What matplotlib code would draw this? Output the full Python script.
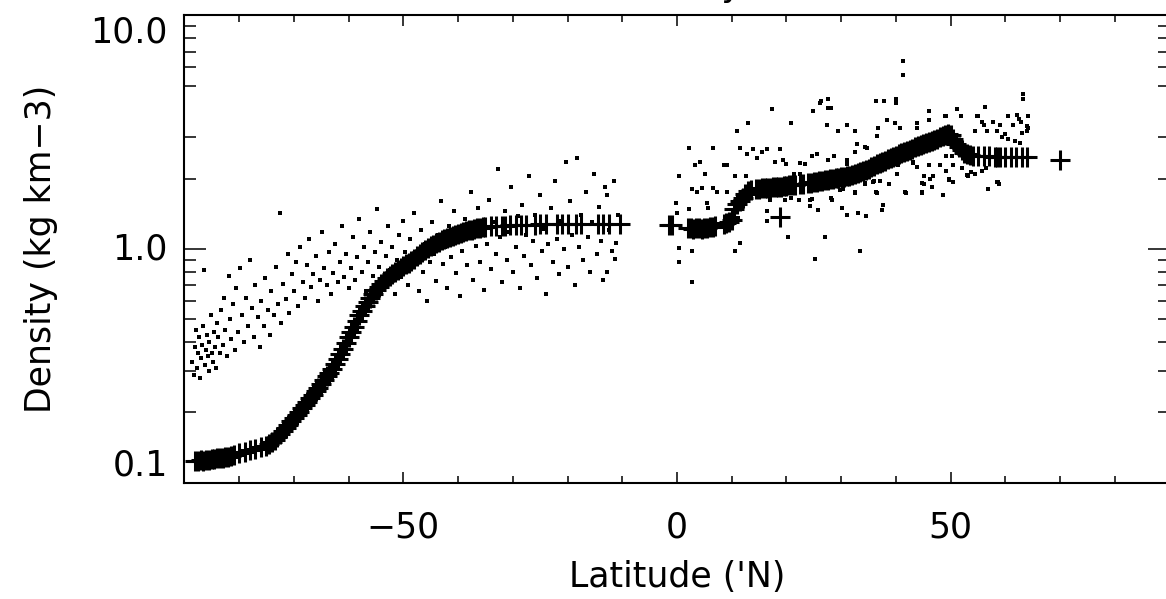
import matplotlib
matplotlib.use("Agg")
import matplotlib.pyplot as plt
from matplotlib.ticker import FixedLocator, FixedFormatter, NullFormatter

# zonal mean profile (plus markers)
prof_lat = [-88.0, -87.5, -87.0, -86.5, -86.0, -85.5, -85.0, -84.5, -84.0, -83.5, -83.0, -82.5,
            -82.0, -81.5, -81.0, -80.0, -79.0, -78.0, -77.0, -76.0, -75.0, -74.5, -74.0, -73.5,
            -73.0, -72.5, -72.0, -71.5, -71.0, -70.5, -70.0, -69.5, -69.0, -68.5, -68.0, -67.5,
            -67.0, -66.5, -66.0, -65.5, -65.0, -64.5, -64.0, -63.5, -63.0, -62.5, -62.0, -61.5,
            -61.0, -60.5, -60.0, -59.5, -59.0, -58.5, -58.0, -57.5, -57.0, -56.5, -56.0, -55.5,
            -55.0, -54.5, -54.0, -53.5, -53.0, -52.5, -52.0, -51.5, -51.0, -50.5, -50.0, -49.5,
            -49.0, -48.5, -48.0, -47.5, -47.0, -46.5, -46.0, -45.5, -45.0, -44.5, -44.0, -43.5,
            -43.0, -42.5, -42.0, -41.5, -41.0, -40.5, -40.0, -39.5, -39.0, -38.5, -38.0, -37.5,
            -37.0, -36.5, -36.0, -35.5, -35.0, -34.0, -33.0, -32.0, -31.5, -30.5, -29.5, -28.5,
            -27.5, -26.0, -25.0, -24.0, -22.0, -21.0, -20.0, -18.5, -17.5, -14.5, -13.5, -12.5,
            -10.5,
            -1.5, -1.0, 2.0, 2.5, 3.0, 3.5, 4.0, 4.5, 5.0, 5.5, 6.0, 6.5, 7.0, 8.5, 9.0, 9.5,
            10.0, 10.5, 11.0, 11.5, 12.0, 12.5, 13.0, 13.5, 14.5, 15.0, 15.5, 16.0, 16.5, 17.0,
            17.5, 18.0, 18.5, 19.0, 19.5, 20.0, 20.5, 21.0, 21.5, 22.5, 23.0, 24.0, 24.5, 25.0,
            25.5, 26.0, 26.5, 27.0, 27.5, 28.0, 28.5, 29.0, 29.5, 30.0, 30.5, 31.0, 31.5, 32.0,
            32.5, 33.0, 33.5, 34.0, 34.5, 35.0, 35.5, 36.0, 36.5, 37.0, 37.5, 38.0, 38.5, 39.0,
            39.5, 40.0, 40.5, 41.0, 41.5, 42.0, 42.5, 43.0, 43.5, 44.0, 44.5, 45.0, 45.5, 46.0,
            46.5, 47.0, 47.5, 48.0, 48.5, 49.0, 49.5, 50.0, 50.5, 51.0, 51.5, 52.0, 52.5, 53.0,
            53.5, 54.0, 55.0, 56.0, 57.0, 58.0, 58.5, 59.0, 60.0, 61.0, 62.0, 63.0, 64.0,
            18.8, 70.0]
prof_den = [0.124, 0.124, 0.125, 0.124, 0.125, 0.125, 0.126, 0.126, 0.127, 0.127, 0.128, 0.129,
            0.129, 0.130, 0.131, 0.134, 0.135, 0.138, 0.139, 0.142, 0.144, 0.146, 0.149, 0.153,
            0.157, 0.161, 0.166, 0.171, 0.177, 0.183, 0.189, 0.195, 0.201, 0.208, 0.215, 0.222,
            0.230, 0.238, 0.246, 0.255, 0.265, 0.275, 0.285, 0.296, 0.308, 0.322, 0.338, 0.355,
            0.375, 0.398, 0.42, 0.44, 0.465, 0.49, 0.52, 0.545, 0.57, 0.595, 0.62, 0.645,
            0.67, 0.69, 0.71, 0.73, 0.75, 0.77, 0.785, 0.80, 0.815, 0.83, 0.845, 0.86,
            0.875, 0.89, 0.91, 0.93, 0.95, 0.97, 0.99, 1.01, 1.03, 1.045, 1.06, 1.075,
            1.09, 1.10, 1.115, 1.13, 1.14, 1.15, 1.16, 1.17, 1.18, 1.19, 1.20, 1.21,
            1.22, 1.23, 1.235, 1.24, 1.245, 1.25, 1.255, 1.26, 1.26, 1.265, 1.265, 1.27,
            1.27, 1.27, 1.275, 1.275, 1.28, 1.28, 1.28, 1.28, 1.28, 1.28, 1.28, 1.28,
            1.28,
            1.27, 1.27, 1.23, 1.23, 1.22, 1.23, 1.23, 1.22, 1.23, 1.23, 1.24, 1.24, 1.25, 1.28, 1.29, 1.30,
            1.33, 1.48, 1.56, 1.60, 1.66, 1.72, 1.77, 1.79, 1.80, 1.81, 1.82, 1.82, 1.83, 1.83,
            1.84, 1.84, 1.85, 1.85, 1.86, 1.86, 1.87, 1.87, 1.88, 1.90, 1.90, 1.91, 1.92, 1.93,
            1.94, 1.95, 1.96, 1.97, 1.98, 1.99, 2.00, 2.01, 2.02, 2.03, 2.04, 2.05, 2.06, 2.08,
            2.10, 2.12, 2.14, 2.16, 2.18, 2.21, 2.24, 2.27, 2.30, 2.33, 2.36, 2.39, 2.42, 2.45,
            2.48, 2.51, 2.54, 2.57, 2.60, 2.63, 2.66, 2.69, 2.72, 2.75, 2.78, 2.80, 2.83, 2.86,
            2.89, 2.93, 2.97, 3.01, 3.05, 3.08, 3.10, 3.06, 2.95, 2.82, 2.72, 2.65, 2.58, 2.54,
            2.52, 2.51, 2.50, 2.50, 2.49, 2.48, 2.48, 2.48, 2.48, 2.48, 2.47, 2.47, 2.47,
            1.37, 2.40]

# individual measurements, southern part
obs_lat_s = [-88.6, -88.3, -88.1, -87.9, -87.7, -87.5, -87.3, -87.2, -87.0, -86.8, -86.6, -86.4,
             -86.3, -86.1, -85.9, -85.7, -85.5, -85.4, -85.2, -85.0, -84.8, -84.6, -84.4, -84.2,
             -84.0, -83.8, -83.5, -83.3, -83.0, -82.7, -82.5, -82.2, -81.9, -81.7, -81.4, -81.1,
             -80.8, -80.5,
             -80.2, -79.8, -79.5, -79.1, -78.8, -78.4, -78.0, -77.7, -77.3, -77.0, -76.6, -76.2,
             -75.9, -75.5, -75.2, -74.8, -74.4, -74.1, -73.7, -73.3, -72.9, -72.6, -72.3, -71.9,
             -71.5, -71.1, -70.8, -70.4,
             -70.0, -69.6, -69.2, -68.8, -68.4, -68.0, -67.6, -67.2, -66.8, -66.4, -66.0, -65.6,
             -65.2, -64.8, -64.4, -64.0, -63.6, -63.2, -62.8, -62.4, -62.0, -61.6, -61.2, -60.8,
             -60.4, -60.0,
             -59.6, -59.2, -58.8, -58.4, -58.0, -57.6, -57.2, -56.8, -56.4, -56.0, -55.6, -55.2,
             -54.8, -54.4, -54.0, -53.6, -53.2, -52.8, -52.4, -52.0, -51.6, -51.2, -50.8, -50.4,
             -50.0,
             -49.6, -49.2, -48.8, -48.4, -48.0, -47.6, -47.2, -46.8, -46.4, -46.0, -45.6, -45.2,
             -44.8, -44.4, -44.0, -43.6, -43.2, -42.8, -42.4, -42.0, -41.6, -41.2, -40.8, -40.4,
             -40.0, -39.6, -39.2, -38.8, -38.4, -38.0, -37.6, -37.2, -36.8, -36.4, -36.0, -35.6,
             -35.2,
             -34.7, -34.3, -33.9, -33.5, -33.1, -32.7, -32.3, -31.9, -31.5, -31.1, -30.7, -30.3,
             -29.9, -29.5, -29.1, -28.7, -28.3, -27.9, -27.5, -27.1, -26.7, -26.3, -25.9, -25.5,
             -25.1, -24.7, -24.3, -23.9, -23.5, -23.1, -22.7, -22.3, -21.9, -21.5, -21.1, -20.7,
             -20.3, -19.9, -19.5, -19.1, -18.7, -18.3, -17.9, -17.5, -17.1, -16.7, -16.3, -15.9,
             -15.5, -15.1, -14.7, -14.3, -13.9, -13.5, -13.1, -12.8, -12.4, -11.9, -11.5, -11.3,
             -11.1, -10.8, -12.8]
obs_den_s = [0.33, 0.29, 0.38, 0.45, 0.31, 0.36, 0.42, 0.28, 0.34, 0.39, 0.47, 0.81,
             0.32, 0.37, 0.43, 0.35, 0.30, 0.40, 0.52, 0.36, 0.33, 0.44, 0.38, 0.31,
             0.48, 0.42, 0.36, 0.55, 0.39, 0.62, 0.45, 0.35, 0.77, 0.50, 0.41, 0.58,
             0.37, 0.68,
             0.44, 0.83, 0.52, 0.40, 0.62, 0.47, 0.90, 0.56, 0.42, 0.70, 0.51, 0.38,
             0.60, 0.47, 0.75, 0.55, 0.43, 0.66, 0.52, 0.84, 0.58, 1.43, 0.48, 0.71,
             0.61, 0.95, 0.53, 0.78,
             0.66, 0.88, 0.57, 1.02, 0.72, 0.62, 0.85, 1.10, 0.69, 0.78, 0.93, 0.60,
             0.74, 1.18, 0.83, 0.70, 0.97, 0.64, 0.79, 1.05, 0.72, 0.88, 1.26, 0.76,
             0.95, 0.68,
             0.83, 1.12, 0.74, 0.92, 1.35, 0.80, 1.02, 0.66, 0.88, 1.18, 0.77, 0.97,
             1.48, 0.84, 1.07, 0.72, 0.93, 1.25, 0.81, 1.02, 0.64, 0.90, 1.15, 0.76,
             1.32,
             0.97, 0.70, 1.10, 0.84, 1.42, 0.92, 0.66, 1.20, 0.80, 1.05, 0.60, 0.88,
             1.30, 0.95, 0.73, 1.15, 1.60, 0.86, 1.02, 0.68, 1.25, 0.92, 1.45, 0.79,
             1.08, 0.63, 0.98, 1.35, 0.85, 1.12, 1.75, 0.74, 1.03, 1.50, 0.88, 1.20,
             0.67,
             1.05, 1.62, 0.82, 1.30, 0.95, 2.20, 1.12, 0.72, 1.45, 0.90, 1.18, 1.85,
             0.80, 1.02, 1.38, 0.68, 1.55, 0.93, 1.15, 2.05, 0.85, 1.08, 1.40, 0.75,
             1.70, 0.98, 1.22, 0.64, 1.05, 1.50, 0.88, 1.95, 1.10, 0.78, 1.32, 1.00,
             2.35, 0.84, 1.60, 1.15, 0.70, 2.45, 1.02, 1.40, 0.90, 1.75, 1.12, 0.80,
             1.30, 2.10, 0.95, 1.52, 1.08, 0.74, 1.85, 1.70, 1.20, 0.98, 1.95, 0.91,
             1.06, 1.40, 0.80]

# individual measurements, northern part
obs_lat_n = [0.4, -0.2, 0.0, 0.4, 0.4, 2.2, 2.2, 2.8, 2.8, 2.8, 3.3, 3.6, 4.2, 4.6, 5.2, 5.4,
             5.7, 6.6, 6.6, 7.3, 8.6, 9.1, 10.6, 10.6, 11.0, 11.2, 11.5, 11.5, 12.6, 13.0, 13.9,
             15.5, 16.4, 16.4, 16.4, 17.0, 17.4, 17.9, 18.8, 19.4, 19.7, 20.3, 20.8, 20.9, 21.4,
             22.2, 22.5, 22.5, 24.3, 24.3, 24.7, 24.7, 24.9, 25.2, 25.6, 25.8, 26.2, 26.3, 27.1,
             27.4, 27.6, 27.6, 27.6, 28.1, 28.1, 28.3, 28.6, 29.4, 29.8, 30.2, 30.3, 31.0, 31.0,
             31.1, 31.1, 32.5, 32.5, 32.5, 32.6, 32.9, 33.0, 33.5, 34.3, 34.3, 34.4, 34.5, 34.7,
             35.8, 35.9, 36.3, 36.3, 36.5, 36.5, 36.7, 37.1, 37.4, 37.6, 37.8, 38.3, 38.7, 39.8,
             40.0, 40.0, 40.2, 40.4, 40.8, 41.3, 41.3, 41.6, 41.8, 43.2, 43.2, 43.8, 43.8, 43.9,
             44.8, 44.8, 44.8, 45.2, 45.2, 46.1, 46.1, 46.1, 46.2, 46.6, 46.8, 48.0, 48.1, 48.6,
             49.0, 49.2, 49.2, 49.2, 49.6, 49.6, 50.2, 50.4, 50.4, 51.2, 51.8, 52.1, 53.0, 53.2,
             53.7, 54.4, 54.5, 54.8, 55.0, 55.7, 55.7, 56.0, 56.3, 56.4, 56.6, 56.8, 56.9, 57.7,
             58.4, 58.5, 58.7, 58.9, 59.0, 59.3, 60.5, 60.5, 61.4, 62.1, 62.6, 63.2, 63.2, 63.9,
             64.1, 64.2, 12.8, 9.1, 14.6, 20.0, 23.4, 60.0, 61.8, 63.0, 64.0, 62.8, 62.4]
obs_den_n = [2.05, 1.57, 1.43, 1.01, 0.88, 2.70, 1.48, 1.80, 0.98, 0.72, 2.28, 1.75, 2.35, 1.83,
             2.10, 1.57, 1.50, 2.70, 1.83, 1.75, 2.28, 1.75, 2.05, 0.98, 3.20, 1.36, 2.70, 1.06,
             2.05, 3.45, 2.68, 2.60, 2.68, 1.45, 1.32, 1.62, 3.97, 2.35, 2.68, 2.40, 1.62, 1.12,
             3.45, 1.65, 2.10, 1.62, 2.33, 2.10, 1.62, 1.53, 2.50, 1.64, 3.90, 0.91, 2.55, 1.47,
             4.20, 4.30, 1.12, 3.40, 4.40, 4.00, 2.40, 4.00, 1.65, 1.62, 2.50, 3.20, 1.79, 1.50,
             1.80, 3.40, 1.40, 2.40, 2.30, 3.20, 2.60, 1.74, 1.75, 2.80, 1.43, 0.98, 2.73, 1.90,
             1.92, 1.38, 2.70, 1.93, 1.96, 4.30, 1.75, 3.05, 1.74, 3.30, 1.96, 1.47, 1.54, 4.30,
             3.55, 1.90, 3.45, 4.40, 4.20, 2.10, 2.28, 3.30, 6.37, 5.55, 1.75, 1.74, 2.33, 2.35,
             3.30, 3.45, 2.25, 1.75, 1.92, 1.74, 2.05, 1.90, 3.90, 3.55, 2.28, 2.00, 1.85, 2.05,
             2.28, 2.28, 1.70, 3.70, 3.70, 2.50, 2.15, 2.00, 1.97, 2.50, 2.28, 1.93, 3.97, 3.70,
             2.22, 2.07, 2.05, 2.13, 3.20, 2.10, 3.70, 3.70, 3.50, 2.15, 3.40, 4.07, 2.22, 3.20,
             1.80, 1.80, 3.50, 3.20, 1.93, 1.93, 1.90, 3.40, 3.00, 3.70, 2.95, 3.40, 3.75, 2.85,
             4.40, 4.60, 3.20, 3.70, 3.30, 2.55, 2.28, 2.45, 2.30, 2.30, 3.10, 2.90, 3.15, 3.35,
             3.50, 3.60]

fig = plt.figure(figsize=(11.66, 5.99), dpi=100)
ax = fig.add_axes([184.3 / 1166, 116.3 / 599, 985.4 / 1166, 467.4 / 599])

ax.plot(obs_lat_s, obs_den_s, 's', color='black', ms=2.4, mew=0)
ax.plot(obs_lat_n, obs_den_n, 's', color='black', ms=2.4, mew=0)
ax.plot(prof_lat, prof_den, '+', color='black', ms=14.5, mew=2.2)

ax.set_yscale('log')
ax.set_xlim(-90, 90)
ax.set_ylim(0.1, 10)

ax.xaxis.set_major_locator(FixedLocator([-50, 0, 50]))
ax.xaxis.set_minor_locator(FixedLocator([-80, -70, -60, -40, -30, -20, -10, 10, 20, 30, 40, 60, 70, 80]))
ax.yaxis.set_major_locator(FixedLocator([0.1, 1.0, 10.0]))
ax.yaxis.set_major_formatter(FixedFormatter(['0.1', '1.0', '10.0']))
ax.yaxis.set_minor_locator(FixedLocator([0.2, 0.3, 0.4, 0.5, 0.6, 0.7, 0.8, 0.9,
                                         2, 3, 5, 6, 7, 8, 9]))
ax.yaxis.set_minor_formatter(NullFormatter())

ax.tick_params(axis='both', which='both', direction='in', top=True, right=True,
               width=1.1, labelsize=25)
ax.tick_params(axis='x', which='major', length=8, pad=20)
ax.tick_params(axis='x', which='minor', length=5)
ax.tick_params(axis='y', which='major', length=16, pad=12)
ax.tick_params(axis='y', which='minor', length=8.5)

for lab, va in zip(ax.get_yticklabels(), ['bottom', 'center', 'top']):
    lab.set_va(va)

for s in ax.spines.values():
    s.set_linewidth(1.5)

ax.set_xlabel("Latitude ('N)", fontsize=25, labelpad=11)
ax.set_ylabel("Density (kg km\u22123)", fontsize=25, labelpad=23)
# title sits above the top edge, only the tail of the "y" shows
fig.text(677 / 1166, 1 + 4 / 599, "Density", fontsize=25, ha='center', va='baseline')

fig.savefig("out.png", dpi=100)
